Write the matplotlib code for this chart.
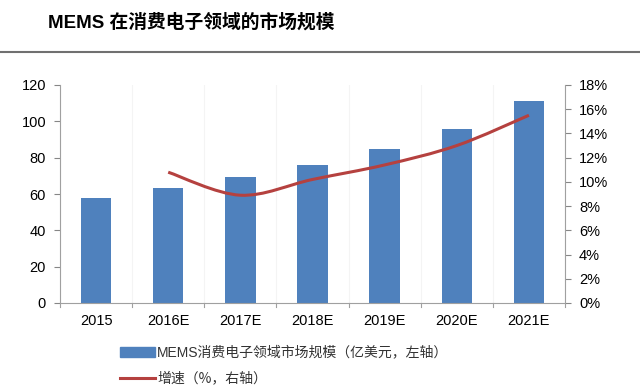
import matplotlib
matplotlib.use("Agg")
import matplotlib.pyplot as plt
from matplotlib.patches import Rectangle, PathPatch
from matplotlib.path import Path
from matplotlib.lines import Line2D

plt.rcParams['font.family'] = ['Liberation Sans', 'Noto Sans CJK SC', 'DejaVu Sans']

categories = ['2015', '2016E', '2017E', '2018E', '2019E', '2020E', '2021E']
market_size = [58, 63.5, 69.5, 76, 85, 96, 111]
growth = [None, 10.8, 8.9, 10.2, 11.4, 13.0, 15.5]

title = 'MEMS 在消费电子领域的市场规模'
legend_bar = 'MEMS消费电子领域市场规模（亿美元，左轴）'
legend_line = '增速（%，右轴）'

W, H = 640, 392
fig = plt.figure(figsize=(W / 100, H / 100), dpi=100)

def fx(px):
    return px / W

def fy(py):
    return 1 - py / H

ax = fig.add_axes([fx(60), fy(303), fx(565) - fx(60), fy(85) - fy(303)])
x = list(range(len(categories)))
ax.bar(x, market_size, width=0.42, color='#4F81BD', zorder=2)
ax.set_xlim(-0.5, len(categories) - 0.5)
ax.set_ylim(0, 120)
ax.set_yticks(range(0, 121, 20))
ax.set_xticks(x)
ax.set_xticklabels(categories, fontsize=10.5)
ax.tick_params(axis='x', length=0, pad=8)
ax.tick_params(axis='y', labelsize=10.5, length=4, color='#868686', pad=6)
for s in ['top', 'right']:
    ax.spines[s].set_visible(False)
for s in ['left', 'bottom']:
    ax.spines[s].set_color('#A0A0A0')
for i in range(len(categories) + 1):
    ax.plot([i - 0.5, i - 0.5], [0, -2.2], color='#A0A0A0', lw=0.8, clip_on=False)
    ax.axvline(i - 0.5, color='#F4F4F4', lw=0.8, zorder=0)

ax2 = ax.twinx()
ax2.set_ylim(0, 18)
ax2.set_yticks(range(0, 19, 2))
ax2.set_yticklabels([f'{v}%' for v in range(0, 19, 2)])
ax2.tick_params(axis='y', labelsize=10.5, length=4, color='#868686', pad=6)
for s in ['top', 'left', 'bottom']:
    ax2.spines[s].set_visible(False)
ax2.spines['right'].set_color('#A0A0A0')

gx = [i for i, g in zip(x, growth) if g is not None]
gy = [g for g in growth if g is not None]
# smoothed line (Excel-style Catmull-Rom through the data points)
pts = list(zip(gx, gy))
verts = [pts[0]]
codes = [Path.MOVETO]
t = 1 / 6
for k in range(len(pts) - 1):
    p0 = pts[k - 1] if k > 0 else pts[k]
    p1 = pts[k]
    p2 = pts[k + 1]
    p3 = pts[k + 2] if k + 2 < len(pts) else pts[k + 1]
    c1 = (p1[0] + (p2[0] - p0[0]) * t, p1[1] + (p2[1] - p0[1]) * t)
    c2 = (p2[0] - (p3[0] - p1[0]) * t, p2[1] - (p3[1] - p1[1]) * t)
    verts += [c1, c2, p2]
    codes += [Path.CURVE4] * 3
ax2.add_patch(PathPatch(Path(verts, codes), facecolor='none',
                        edgecolor='#B5413F', lw=2.2, zorder=3))

fig.text(fx(48), fy(22), title, fontsize=13.5, fontweight='bold',
         family=['Liberation Sans', 'Noto Sans CJK SC'], va='center', ha='left')
fig.add_artist(Line2D([0, 1], [fy(52), fy(52)], color='#707070', lw=1.5))

fig.add_artist(Rectangle((fx(120), fy(357)), fx(35), fy(347) - fy(357),
                         color='#4F81BD', transform=fig.transFigure))
fig.text(fx(157), fy(352), legend_bar, fontsize=10, va='center', ha='left',
         color='#333333', family=['Liberation Sans', 'Noto Sans CJK SC'])
fig.add_artist(Line2D([fx(120), fx(155)], [fy(378), fy(378)], color='#B5413F', lw=2.2))
fig.text(fx(157), fy(378), legend_line, fontsize=10, va='center', ha='left',
         color='#333333', family=['Noto Sans CJK SC', 'Liberation Sans'])

fig.savefig('out.png', dpi=100)
